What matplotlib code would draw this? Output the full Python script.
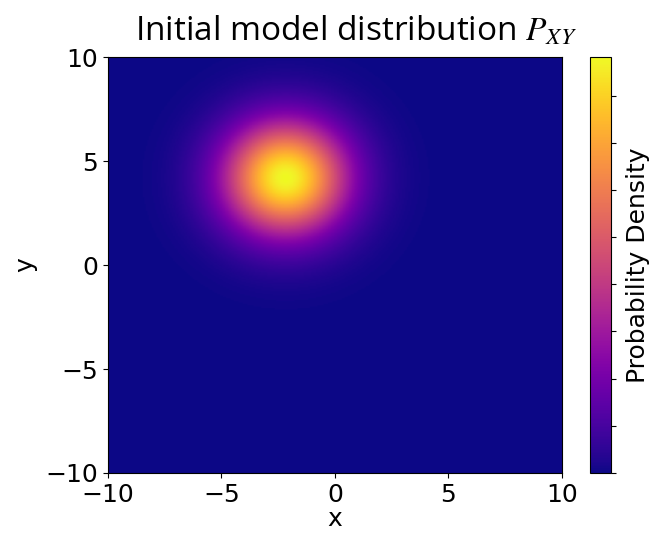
import numpy as np
import matplotlib
matplotlib.use('Agg')
import matplotlib.pyplot as plt

# grid bounds and gaussian parameters
x_range = [-10, 10]
y_range = [-10, 10]
mean_xy = [-2.2, 4.2]
sigma_xy = [1.9, 1.9]
n_grid = 300
cbar_ticks = [0, 0.005, 0.01, 0.015, 0.02, 0.025, 0.03, 0.035, 0.04]
axis_ticks = [-10, -5, 0, 5, 10]


def main():
    xs = np.linspace(x_range[0], x_range[1], n_grid)
    ys = np.linspace(y_range[0], y_range[1], n_grid)
    X, Y = np.meshgrid(xs, ys)
    Z = np.exp(-0.5 * (((X - mean_xy[0]) / sigma_xy[0]) ** 2 + ((Y - mean_xy[1]) / sigma_xy[1]) ** 2))
    Z = Z / (2 * np.pi * sigma_xy[0] * sigma_xy[1])

    plt.rcParams['font.family'] = ['DejaVu Sans']
    plt.rcParams['mathtext.fontset'] = 'stix'
    fig = plt.figure(figsize=(6.49, 5.35), dpi=100)
    ax = fig.add_axes([0.166, 0.116, 0.700, 0.777])
    cax = fig.add_axes([0.909, 0.116, 0.032, 0.777])

    im = ax.imshow(Z, extent=[x_range[0], x_range[1], y_range[0], y_range[1]], origin='lower',
                   cmap='plasma', aspect='auto', vmin=0)
    ax.set_xticks(axis_ticks)
    ax.set_yticks(axis_ticks)
    ax.tick_params(labelsize=18)
    ax.set_xlabel('x', fontsize=18, labelpad=0)
    ax.set_ylabel('y', fontsize=18, labelpad=6)

    cb = fig.colorbar(im, cax=cax)
    cb.set_ticks(cbar_ticks)
    cb.set_ticklabels([''] * len(cbar_ticks))
    cb.set_label('Probability Density', fontsize=18, labelpad=4)

    fig.text(0.548, 0.94, r'Initial model distribution $P_{XY}$', ha='center', va='center',
             fontsize=24, family='Open Sans')

    fig.savefig('out.png', dpi=100)


main()
